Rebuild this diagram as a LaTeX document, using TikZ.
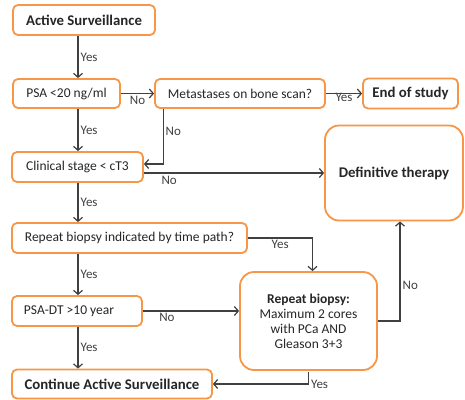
\documentclass[tikz,border=0pt]{standalone}
\usepackage{fontspec}
\setmainfont{Carlito}
\usetikzlibrary{positioning, arrows.meta, calc}
\definecolor{colorbox}{HTML}{F79646}
\definecolor{coloredge}{HTML}{404040}
\definecolor{colortext}{HTML}{262626}

\begin{document}
\begin{tikzpicture}[
    x=1pt, y=-1pt,
    % Orange rounded boxes
    box/.style={
        rectangle,
        draw=colorbox,
        fill=white,
        rounded corners=5pt,
        align=center,
        inner sep=1pt,
        line width=1.8pt,
        text=colortext,
        font=\fontsize{13.5}{15}\selectfont
    },
    % One-line bold boxes
    titlebox/.style={
        box,
        font=\fontsize{14.8}{16}\selectfont\bfseries
    },
    bigbox/.style={
        box,
        rounded corners=14pt
    },
    arrow/.style={
        -{Straight Barb[length=4pt, width=9pt]},
        coloredge,
        line width=1.2pt
    },
    lbl/.style={
        text=coloredge,
        font=\fontsize{13}{14}\selectfont,
        inner sep=2pt
    }
]
\useasboundingbox (0,0) rectangle (465,399);

% ==============================
% Left column
% ==============================
\node[titlebox, minimum width=142pt, minimum height=30pt] (active) at (84,20)
    {Active Surveillance};
\node[box, minimum width=107pt, minimum height=29pt] (psa) at (66.5,93.5)
    {PSA <20 ng/ml};
\node[box, minimum width=131pt, minimum height=30pt] (stage) at (77.5,167)
    {Clinical stage < cT3};
\node[box, minimum width=235pt, minimum height=30pt] (indicated) at (129.5,238)
    {Repeat biopsy indicated by time path?};
\node[box, minimum width=130pt, minimum height=30pt] (psadt) at (77,311)
    {PSA-DT >10 year\hspace*{16pt}};
\node[titlebox, minimum width=200pt, minimum height=29pt] (continue) at (112,384)
    {Continue Active Surveillance};

% ==============================
% Right side
% ==============================
\node[box, minimum width=170pt, minimum height=29pt] (meta) at (240,93.5)
    {Metastases on bone scan?};
\node[titlebox, minimum width=95pt, minimum height=30pt] (endstudy) at (410.5,93.5)
    {End of study};
\node[bigbox, font=\fontsize{14.8}{16}\selectfont\bfseries,
      minimum width=138pt, minimum height=95pt] (therapy) at (394,173)
    {Definitive therapy};
\node[bigbox, minimum width=137pt, minimum height=98pt] (biopsy) at (308.5,321)
    {\textbf{Repeat biopsy:}\\ Maximum 2 cores\\ with PCa AND\\ Gleason 3+3};

% ==============================
% Arrows
% ==============================
\draw[arrow] ([xshift=-6pt]active.south) -- ([xshift=-6pt]active.south |- psa.north)
    node[lbl, midway, right] {Yes};
\draw[arrow] ([xshift=-6pt]active.south |- psa.south) -- ([xshift=-6pt]active.south |- stage.north)
    node[lbl, midway, right] {Yes};
\draw[arrow] (psa.east) -- (meta.west)
    node[lbl, midway, below] {No};
\draw[arrow] (meta.east) -- (endstudy.west)
    node[lbl, midway, below, yshift=3pt] {Yes};

% Metastases back to clinical stage
\draw[arrow] ([xshift=9pt]meta.south west) |- ([yshift=3pt]stage.east)
    node[lbl, pos=0.2, right] {No};
\draw[arrow] (therapy.west -| stage.east) -- (therapy.west)
    node[lbl, pos=0.14, below, yshift=-1pt] {No};

\draw[arrow] ([xshift=-6pt]active.south |- stage.south) -- ([xshift=-6pt]active.south |- indicated.north)
    node[lbl, midway, right] {Yes};
\draw[arrow] (indicated.east) -| ([xshift=4pt]biopsy.north)
    node[lbl, pos=0.25, below] {Yes};
\draw[arrow] ([xshift=-6pt]active.south |- indicated.south) -- ([xshift=-6pt]active.south |- psadt.north)
    node[lbl, midway, right] {Yes};
\draw[arrow] (psadt.east) -- (psadt.east -| biopsy.west)
    node[lbl, pos=0.25, below] {No};
\draw[arrow] ([xshift=-6pt]active.south |- psadt.south) -- ([xshift=-6pt]active.south |- continue.north)
    node[lbl, midway, right] {Yes};

% Repeat biopsy outcomes
\draw[arrow] (biopsy.east) -| ([xshift=6pt]therapy.south)
    node[lbl, pos=0.68, right] {No};
\draw[arrow] ([yshift=-1pt]biopsy.south) |- (continue.east)
    node[lbl, pos=0.5, right] {Yes};

\end{tikzpicture}
\end{document}
